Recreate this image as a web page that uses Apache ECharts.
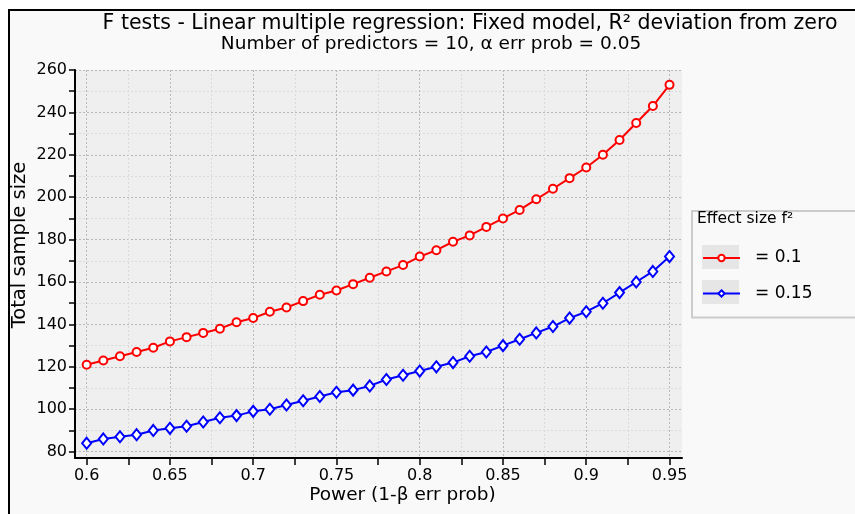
<!DOCTYPE html>
<html lang="en">
<head>
    <meta charset="UTF-8">
    <title>F tests - Linear multiple regression</title>
</head>
<body style="margin:0;">
    <div id="main" style="width:855px;height:514px;"></div>
    <script src="https://cdn.jsdelivr.net/npm/echarts@6/dist/echarts.min.js"></script>
    <script>
        // power values (x axis)
        var power = [0.6, 0.61, 0.62, 0.63, 0.64, 0.65, 0.66, 0.67, 0.68, 0.69,
            0.7, 0.71, 0.72, 0.73, 0.74, 0.75, 0.76, 0.77, 0.78, 0.79,
            0.8, 0.81, 0.82, 0.83, 0.84, 0.85, 0.86, 0.87, 0.88, 0.89,
            0.9, 0.91, 0.92, 0.93, 0.94, 0.95];
        // total sample size, f2 = 0.1
        var sizeF010 = [121, 123, 125, 127, 129, 132, 134, 136, 138, 141,
            143, 146, 148, 151, 154, 156, 159, 162, 165, 168,
            172, 175, 179, 182, 186, 190, 194, 199, 204, 209,
            214, 220, 227, 235, 243, 253];
        // total sample size, f2 = 0.15
        var sizeF015 = [84, 86, 87, 88, 90, 91, 92, 94, 96, 97,
            99, 100, 102, 104, 106, 108, 109, 111, 114, 116,
            118, 120, 122, 125, 127, 130, 133, 136, 139, 143,
            146, 150, 155, 160, 165, 172];
        var seriesNames = ['= 0.1', '= 0.15'];
        var xLabels = [0.6, 0.65, 0.7, 0.75, 0.8, 0.85, 0.9, 0.95];
        var xTicks = [0.6, 0.625, 0.65, 0.675, 0.7, 0.725, 0.75, 0.775, 0.8, 0.825, 0.85, 0.875, 0.9, 0.925, 0.95];
        var yLabels = [80, 100, 120, 140, 160, 180, 200, 220, 240, 260];
        var yTicks = [80, 90, 100, 110, 120, 130, 140, 150, 160, 170, 180, 190, 200, 210, 220, 230, 240, 250, 260];

        var font = 'DejaVu Sans';
        var myChart = echarts.init(document.getElementById('main'));

        function pairs(ys) {
            var out = [];
            for (var i = 0; i < power.length; i++) {
                out.push([power[i], ys[i]]);
            }
            return out;
        }

        var option = {
            backgroundColor: '#ffffff',
            animation: false,
            textStyle: { fontFamily: font, color: '#000' },
            title: [{
                text: 'F tests - Linear multiple regression: Fixed model, R² deviation from zero',
                left: 470,
                top: 13,
                textAlign: 'center',
                padding: 0,
                textStyle: { fontFamily: font, fontSize: 20.5, fontWeight: 'normal', color: '#000' }
            }, {
                text: 'Number of predictors = 10, α err prob = 0.05',
                left: 431,
                top: 35,
                textAlign: 'center',
                padding: 0,
                textStyle: { fontFamily: font, fontSize: 18.5, fontWeight: 'normal', color: '#000' }
            }],
            graphic: [{
                type: 'rect',
                z: -1,
                shape: { x: 9, y: 10, width: 860, height: 520 },
                style: { fill: '#f9f9f9', stroke: '#000', lineWidth: 2 }
            }, {
                type: 'rect',
                z: 1,
                shape: { x: 702, y: 245, width: 37, height: 24 },
                style: { fill: '#e6e6e6' }
            }, {
                type: 'rect',
                z: 1,
                shape: { x: 702, y: 280, width: 37, height: 24 },
                style: { fill: '#e6e6e6' }
            }, {
                type: 'text',
                z: 5,
                left: 697,
                top: 211,
                style: { text: 'Effect size f²', font: '15.5px "DejaVu Sans"', fill: '#000' }
            }],
            grid: {
                left: 75,
                right: 173,
                top: 70,
                bottom: 56,
                outerBoundsMode: 'none',
                show: true,
                backgroundColor: '#efefef',
                borderWidth: 0
            },
            legend: {
                orient: 'vertical',
                left: 692,
                top: 211,
                padding: [37, 100, 14, 10],
                borderColor: '#cccccc',
                borderWidth: 2,
                itemWidth: 37,
                itemHeight: 8,
                itemGap: 15.5,
                data: seriesNames,
                textStyle: { fontFamily: font, fontSize: 17, lineHeight: 20, color: '#000', padding: [0, 0, 0, 10] }
            },
            xAxis: {
                type: 'value',
                min: 0.593,
                max: 0.9575,
                name: 'Power (1-β err prob)',
                nameLocation: 'middle',
                nameGap: 28,
                nameMoveOverlap: false,
                nameTextStyle: { fontFamily: font, fontSize: 18.5, color: '#000', padding: [0, 0, 0, 48] },
                axisLine: { show: true, lineStyle: { color: '#000', width: 2 } },
                axisTick: { show: true, length: 7, customValues: xTicks, lineStyle: { color: '#000', width: 1.5 } },
                axisLabel: {
                    customValues: xLabels,
                    margin: 10,
                    fontFamily: font,
                    fontSize: 16,
                    color: '#000'
                },
                splitLine: {
                    show: true,
                    lineStyle: { color: ['#b8b8b8', '#dadada'], type: [2, 2], width: 1 }
                }
            },
            yAxis: {
                type: 'value',
                min: 77,
                max: 260,
                name: 'Total sample size',
                nameLocation: 'middle',
                nameGap: 45,
                nameMoveOverlap: false,
                nameTextStyle: { fontFamily: font, fontSize: 19.5, color: '#000', padding: [0, 0, 0, 38] },
                axisLine: { show: true, lineStyle: { color: '#000', width: 2 } },
                axisTick: { show: true, length: 6, customValues: yTicks, lineStyle: { color: '#000', width: 1.5 } },
                axisLabel: {
                    customValues: yLabels,
                    margin: 8,
                    fontFamily: font,
                    fontSize: 16,
                    color: '#000',
                    padding: [0, 0, 5, 0]
                },
                splitLine: {
                    show: true,
                    lineStyle: { color: ['#b8b8b8', '#dadada'], type: [2, 2], width: 1 }
                }
            },
            series: [{
                name: seriesNames[0],
                type: 'line',
                data: pairs(sizeF010),
                symbol: 'circle',
                symbolSize: 8,
                lineStyle: { color: '#ff0000', width: 2 },
                itemStyle: { color: '#ffffff', borderColor: '#ff0000', borderWidth: 2 },
                z: 3
            }, {
                name: seriesNames[1],
                type: 'line',
                data: pairs(sizeF015),
                symbol: 'diamond',
                symbolSize: [9, 11],
                lineStyle: { color: '#0000ff', width: 2 },
                itemStyle: { color: '#ffffff', borderColor: '#0000ff', borderWidth: 2 },
                z: 3
            }]
        };

        myChart.setOption(option);
    </script>
</body>
</html>
